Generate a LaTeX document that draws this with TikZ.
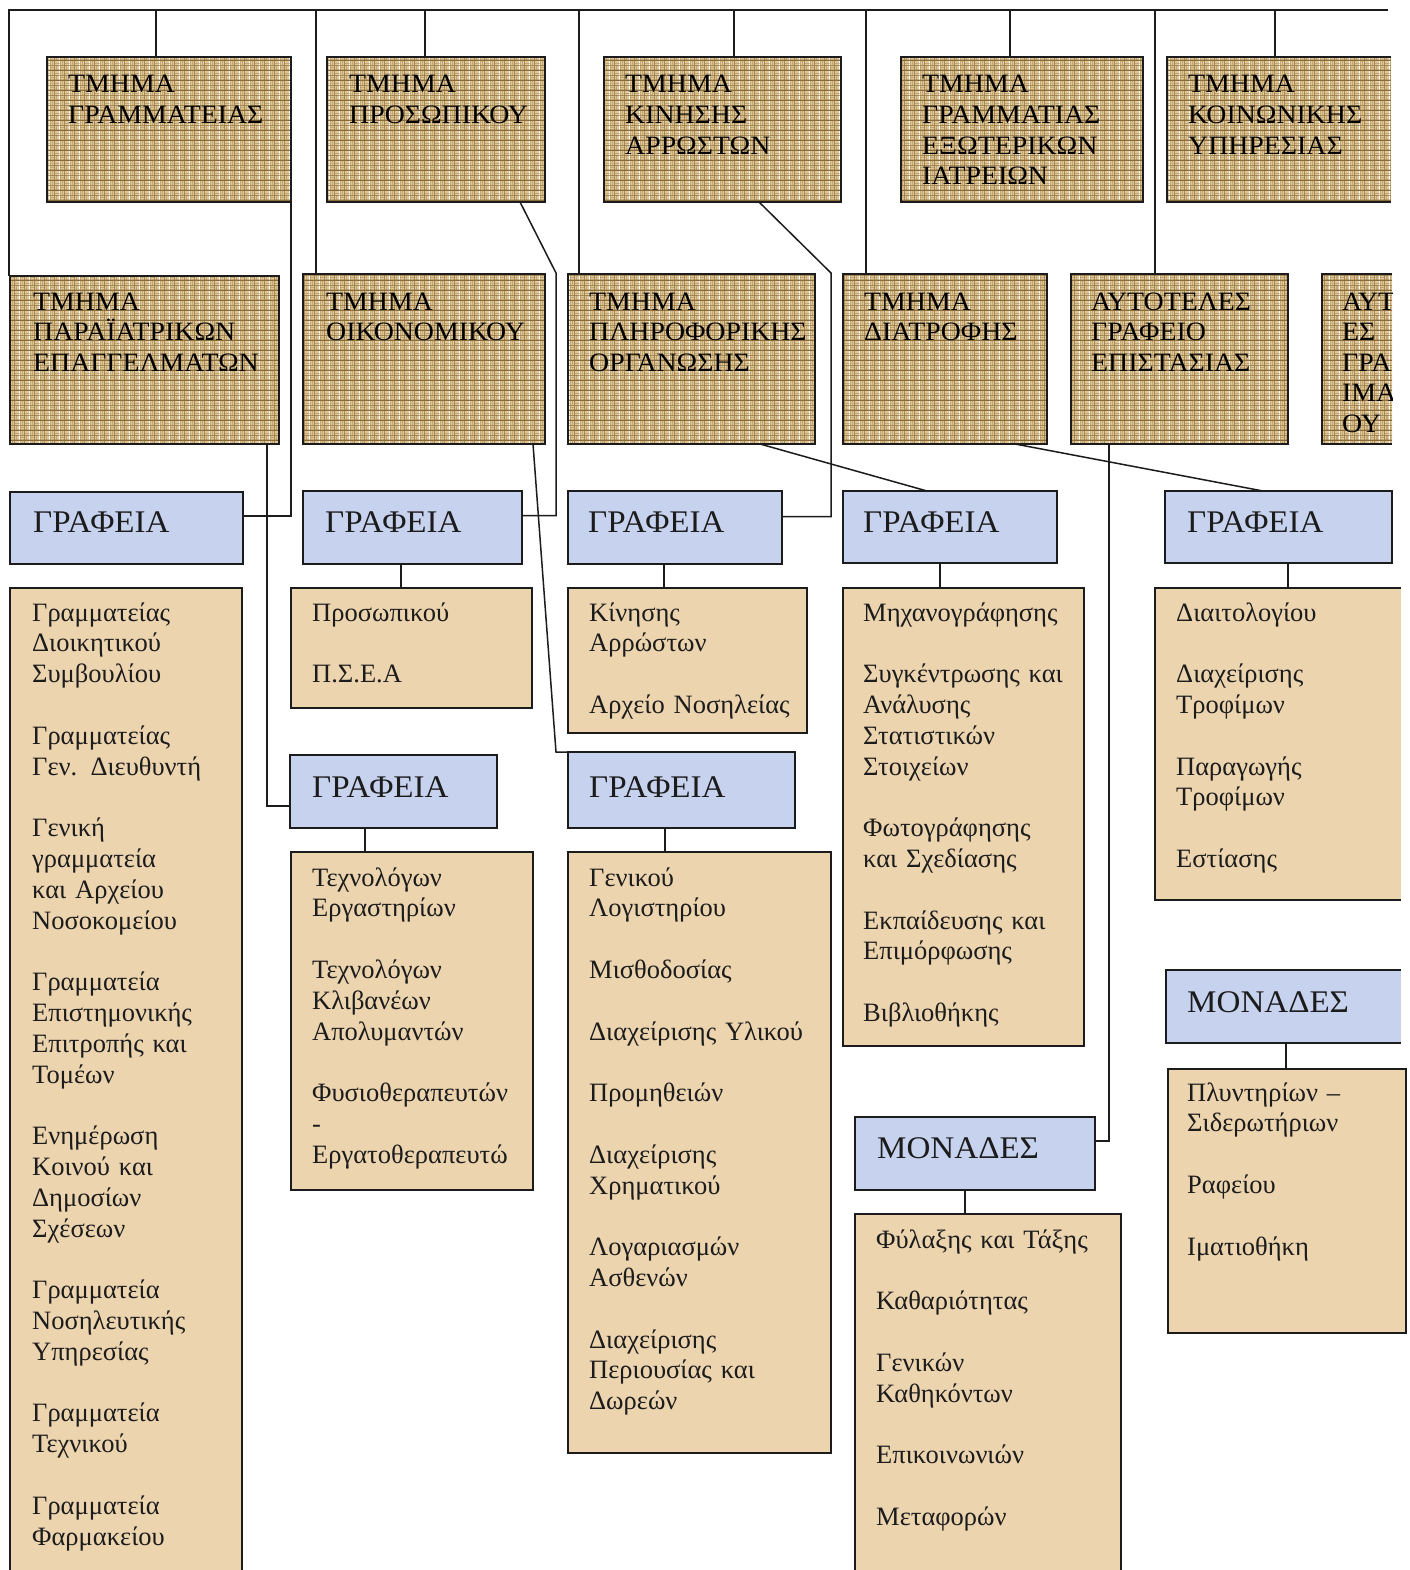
\documentclass[tikz,border=0pt]{standalone}
\usepackage{fontspec}
\setmainfont{Liberation Serif}
\newfontfamily\capfont{Liberation Serif}[FakeStretch=1.05]
\usetikzlibrary{patterns}
\definecolor{burlapB}{HTML}{8C6B3A}
\definecolor{burlapL}{HTML}{E0C896}
\definecolor{headblue}{HTML}{C7D2EF}
\definecolor{listtan}{HTML}{ECD4AF}
\definecolor{inkc}{HTML}{1C1C1C}
\pgfdeclarepatterninherentlycolored{burlap}
{\pgfpointorigin}{\pgfpoint{10pt}{10pt}}{\pgfpoint{10pt}{10pt}}
{
\pgfsetfillcolor{burlapL}
\pgfpathrectangle{\pgfpoint{0.3pt}{0.5pt}}{\pgfpoint{4.4pt}{1.7pt}}
\pgfpathrectangle{\pgfpoint{0.3pt}{2.9pt}}{\pgfpoint{4.4pt}{1.7pt}}
\pgfpathrectangle{\pgfpoint{5.5pt}{0.3pt}}{\pgfpoint{1.7pt}{4.4pt}}
\pgfpathrectangle{\pgfpoint{7.9pt}{0.3pt}}{\pgfpoint{1.7pt}{4.4pt}}
\pgfpathrectangle{\pgfpoint{0.5pt}{5.3pt}}{\pgfpoint{1.7pt}{4.4pt}}
\pgfpathrectangle{\pgfpoint{2.9pt}{5.3pt}}{\pgfpoint{1.7pt}{4.4pt}}
\pgfpathrectangle{\pgfpoint{5.3pt}{5.5pt}}{\pgfpoint{4.4pt}{1.7pt}}
\pgfpathrectangle{\pgfpoint{5.3pt}{7.9pt}}{\pgfpoint{4.4pt}{1.7pt}}
\pgfusepath{fill}
}
\newcommand{\brf}{\capfont\fontsize{26.5pt}{30.6pt}\selectfont}
\newcommand{\hdf}{\capfont\fontsize{31.5pt}{36pt}\selectfont}
\newcommand{\lsf}{\fontsize{26.5pt}{30.8pt}\selectfont}
\newcommand{\gp}{\\[30.8pt]}
\tikzset{
 boxline/.style={draw=inkc, line width=1.8pt},
 brownbox/.style={boxline, preaction={fill=burlapB}, pattern=burlap},
 brownfill/.style={preaction={fill=burlapB}, pattern=burlap, draw=none},
 bluebox/.style={boxline, fill=headblue},
 bluefill/.style={fill=headblue, draw=none},
 tanbox/.style={boxline, fill=listtan},
 tanfill/.style={fill=listtan, draw=none},
 bx/.style 2 args={minimum width=#1pt, minimum height=#2pt, anchor=north west, inner sep=0pt, outer sep=0pt},
 conn/.style={draw=inkc, line width=1.5pt},
 txt/.style={anchor=base west, inner sep=0pt, text width=330pt, align=left, text=inkc},
 brtxt/.style={txt, font=\brf, text=black},
 hdtxt/.style={txt, font=\hdf},
 lstxt/.style={txt, font=\lsf},
}
\begin{document}
\begin{tikzpicture}[x=1pt,y=-1pt]
\useasboundingbox (0,0) rectangle (1409,1570);
\fill[white] (0,0) rectangle (1409,1570);

% ---------- top row departments
\node[brownbox, bx={244}{145}] (B1) at (47,57) {};
\node[brownbox, bx={218}{145}] (B2) at (327,57) {};
\node[brownbox, bx={237}{145}] (B3) at (604,57) {};
\node[brownbox, bx={242}{145}] (B4) at (901,57) {};
\node[brownfill, bx={224}{145}] (B5) at (1167,57) {};
\draw[boxline] (B5.north east) -- (B5.north west) -- (B5.south west) -- (B5.south east);

% ---------- second row departments
\node[brownbox, bx={269}{168}] (C1) at (10,276) {};
\node[brownbox, bx={242}{170}] (C2) at (303,274) {};
\node[brownbox, bx={247}{170}] (C3) at (568,274) {};
\node[brownbox, bx={204}{170}] (C4) at (843,274) {};
\node[brownbox, bx={217}{170}] (C5) at (1071,274) {};
\node[brownfill, bx={70}{170}] (C6) at (1322,274) {};
\draw[boxline] (C6.north east) -- (C6.north west) -- (C6.south west) -- (C6.south east);

% ---------- blue heading boxes
\node[bluebox, bx={233}{72}] (G1) at (10,492) {};
\node[bluebox, bx={219}{73}] (G2) at (303,491) {};
\node[bluebox, bx={214}{73}] (G3) at (568,491) {};
\node[bluebox, bx={214}{72}] (G4) at (843,491) {};
\node[bluebox, bx={227}{72}] (G5) at (1165,491) {};
\node[bluebox, bx={207}{73}] (G6) at (290,755) {};
\node[bluebox, bx={227}{76}] (G7) at (568,752) {};
\node[bluebox, bx={240}{73}] (M1) at (855,1117) {};
\node[bluefill, bx={235}{73}] (M2) at (1166,970) {};
\draw[boxline] (M2.north east) -- (M2.north west) -- (M2.south west) -- (M2.south east);

% ---------- list boxes
\node[tanfill, bx={232}{982}] (L1) at (10,588) {};
\draw[boxline] (L1.south west) -- (L1.north west) -- (L1.north east) -- (L1.south east);
\node[tanbox, bx={241}{120}] (L2) at (291,588) {};
\node[tanbox, bx={239}{145}] (L3) at (568,588) {};
\node[tanbox, bx={241}{458}] (L4) at (843,588) {};
\node[tanfill, bx={246}{312}] (L5) at (1155,588) {};
\draw[boxline] (L5.north east) -- (L5.north west) -- (L5.south west) -- (L5.south east);
\node[tanbox, bx={242}{338}] (L6) at (291,852) {};
\node[tanbox, bx={263}{601}] (L7) at (568,852) {};
\node[tanfill, bx={266}{356}] (L8) at (855,1214) {};
\draw[boxline] (L8.south west) -- (L8.north west) -- (L8.north east) -- (L8.south east);
\node[tanbox, bx={238}{264}] (L9) at (1168,1069) {};

% ---------- department texts
\node[brtxt] (tB1) at (68,93) {ΤΜΗΜΑ\\ΓΡΑΜΜΑΤΕΙΑΣ};
\node[brtxt] (tB2) at (349,93) {ΤΜΗΜΑ\\ΠΡΟΣΩΠΙΚΟΥ};
\node[brtxt] (tB3) at (625,93) {ΤΜΗΜΑ\\ΚΙΝΗΣΗΣ\\ΑΡΡΩΣΤΩΝ};
\node[brtxt] (tB4) at (922,93) {ΤΜΗΜΑ\\ΓΡΑΜΜΑΤΙΑΣ\\ΕΞΩΤΕΡΙΚΩΝ\\ΙΑΤΡΕΙΩΝ};
\node[brtxt] (tB5) at (1188,93) {ΤΜΗΜΑ\\ΚΟΙΝΩΝΙΚΗΣ\\ΥΠΗΡΕΣΙΑΣ};
\node[brtxt] (tC1) at (33,310) {ΤΜΗΜΑ\\ΠΑΡΑΪΑΤΡΙΚΩΝ\\ΕΠΑΓΓΕΛΜΑΤΩΝ};
\node[brtxt] (tC2) at (326,310) {ΤΜΗΜΑ\\ΟΙΚΟΝΟΜΙΚΟΥ};
\node[brtxt] (tC3) at (589,310) {ΤΜΗΜΑ\\ΠΛΗΡΟΦΟΡΙΚΗΣ\\ΟΡΓΑΝΩΣΗΣ};
\node[brtxt] (tC4) at (864,310) {ΤΜΗΜΑ\\ΔΙΑΤΡΟΦΗΣ};
\node[brtxt] (tC5) at (1091,310) {ΑΥΤΟΤΕΛΕΣ\\ΓΡΑΦΕΙΟ\\ΕΠΙΣΤΑΣΙΑΣ};
\begin{scope}
\clip (1318,270) rectangle (1392,450);
\node[brtxt] (tC6) at (1342,310) {ΑΥΤ\\ΕΣ\\ΓΡΑ\\ΙΜΑ\\ΟΥ};
\end{scope}

% ---------- heading texts
\node[hdtxt] (tG1) at (33,532) {ΓΡΑΦΕΙΑ};
\node[hdtxt] (tG2) at (325,532) {ΓΡΑΦΕΙΑ};
\node[hdtxt] (tG3) at (588,532) {ΓΡΑΦΕΙΑ};
\node[hdtxt] (tG4) at (863,532) {ΓΡΑΦΕΙΑ};
\node[hdtxt] (tG5) at (1187,532) {ΓΡΑΦΕΙΑ};
\node[hdtxt] (tG6) at (312,797) {ΓΡΑΦΕΙΑ};
\node[hdtxt] (tG7) at (589,797) {ΓΡΑΦΕΙΑ};
\node[hdtxt] (tM1) at (877,1158) {ΜΟΝΑΔΕΣ};
\node[hdtxt] (tM2) at (1187,1012) {ΜΟΝΑΔΕΣ};

% ---------- list texts
\node[lstxt] (tL1) at (32,621) {Γραμματείας\\Διοικητικού\\Συμβουλίου\gp Γραμματείας\\Γεν. Διευθυντή\gp Γενική\\γραμματεία\\και Αρχείου\\Νοσοκομείου\gp Γραμματεία\\Επιστημονικής\\Επιτροπής και\\Τομέων\gp Ενημέρωση\\Κοινού και\\Δημοσίων\\Σχέσεων\gp Γραμματεία\\Νοσηλευτικής\\Υπηρεσίας\gp Γραμματεία\\Τεχνικού\gp Γραμματεία\\Φαρμακείου};
\node[lstxt] (tL2) at (312,621) {Προσωπικού\gp Π.Σ.Ε.Α};
\node[lstxt] (tL3) at (589,621) {Κίνησης\\Αρρώστων\gp Αρχείο Νοσηλείας};
\node[lstxt] (tL4) at (863,621) {Μηχανογράφησης\gp Συγκέντρωσης και\\Ανάλυσης\\Στατιστικών\\Στοιχείων\gp Φωτογράφησης\\και Σχεδίασης\gp Εκπαίδευσης και\\Επιμόρφωσης\gp Βιβλιοθήκης};
\node[lstxt] (tL5) at (1176,621) {Διαιτολογίου\gp Διαχείρισης\\Τροφίμων\gp Παραγωγής\\Τροφίμων\gp Εστίασης};
\node[lstxt] (tL6) at (312,886) {Τεχνολόγων\\Εργαστηρίων\gp Τεχνολόγων\\Κλιβανέων\\Απολυμαντών\gp Φυσιοθεραπευτών\\-\\Εργατοθεραπευτώ};
\node[lstxt] (tL7) at (589,886) {Γενικού\\Λογιστηρίου\gp Μισθοδοσίας\gp Διαχείρισης Υλικού\gp Προμηθειών\gp Διαχείρισης\\Χρηματικού\gp Λογαριασμών\\Ασθενών\gp Διαχείρισης\\Περιουσίας και\\Δωρεών};
\node[lstxt] (tL8) at (876,1248) {Φύλαξης και Τάξης\gp Καθαριότητας\gp Γενικών\\Καθηκόντων\gp Επικοινωνιών\gp Μεταφορών};
\node[lstxt] (tL9) at (1187,1101) {Πλυντηρίων –\\Σιδερωτήριων\gp Ραφείου\gp Ιματιοθήκη};

% ---------- top bus and drops
\coordinate (busL) at (9,10);
\coordinate (busR) at (1388,10);
\coordinate (dB1) at (156,10);
\coordinate (dC2) at (316,10);
\coordinate (dB2) at (425,10);
\coordinate (dC3) at (579,10);
\coordinate (dB3) at (734,10);
\coordinate (dC4) at (866,10);
\coordinate (dB4) at (1010,10);
\coordinate (dC5) at (1155,10);
\coordinate (dB5) at (1275,10);
\draw[conn] (busR) -- (busL) -- (busL |- C1.north);
\draw[conn] (dB1) -- (dB1 |- B1.north);
\draw[conn] (dC2) -- (dC2 |- C2.north);
\draw[conn] (dB2) -- (dB2 |- B2.north);
\draw[conn] (dC3) -- (dC3 |- C3.north);
\draw[conn] (dB3) -- (dB3 |- B3.north);
\draw[conn] (dC4) -- (dC4 |- C4.north);
\draw[conn] (dB4) -- (dB4 |- B4.north);
\draw[conn] (dC5) -- (dC5 |- C5.north);
\draw[conn] (dB5) -- (dB5 |- B5.north);

% ---------- department -> offices
\coordinate (kB2) at (556,273);
\coordinate (kB3) at (831,273);
\coordinate (kC2) at (556,752);
\draw[conn] (B1.south east) |- ([yshift=12pt]G1.east);
\draw[conn] ([xshift=-25pt]B2.south east) -- (kB2) |- ([yshift=12pt]G2.east);
\draw[conn] ([xshift=-82pt]B3.south east) -- (kB3) |- ([yshift=11pt]G3.east);
\draw[conn] ([xshift=-12pt]C1.south east) |- ([yshift=-14.5pt]G6.west);
\draw[conn] ([xshift=-12pt]C2.south east) -- (kC2) -- (G7.north west);
\draw[conn] ([xshift=-55pt]C3.south east) -- ([xshift=84pt]G4.north west);
\draw[conn] ([xshift=-32pt]C4.south east) -- ([xshift=98pt]G5.north west);
\draw[conn] ([xshift=38pt]C5.south west) |- ([yshift=12.5pt]M1.east);

% ---------- headings -> lists
\coordinate (vG2) at (401,0);
\coordinate (vG3) at (664,0);
\coordinate (vG4) at (940,0);
\coordinate (vG5) at (1288,0);
\coordinate (vG6) at (365,0);
\coordinate (vG7) at (665,0);
\coordinate (vM1) at (965,0);
\coordinate (vM2) at (1286,0);
\draw[conn] (G2.south -| vG2) -- (L2.north -| vG2);
\draw[conn] (G3.south -| vG3) -- (L3.north -| vG3);
\draw[conn] (G4.south -| vG4) -- (L4.north -| vG4);
\draw[conn] (G5.south -| vG5) -- (L5.north -| vG5);
\draw[conn] (G6.south -| vG6) -- (L6.north -| vG6);
\draw[conn] (G7.south -| vG7) -- (L7.north -| vG7);
\draw[conn] (M1.south -| vM1) -- (L8.north -| vM1);
\draw[conn] (M2.south -| vM2) -- (L9.north -| vM2);
\end{tikzpicture}
\end{document}
